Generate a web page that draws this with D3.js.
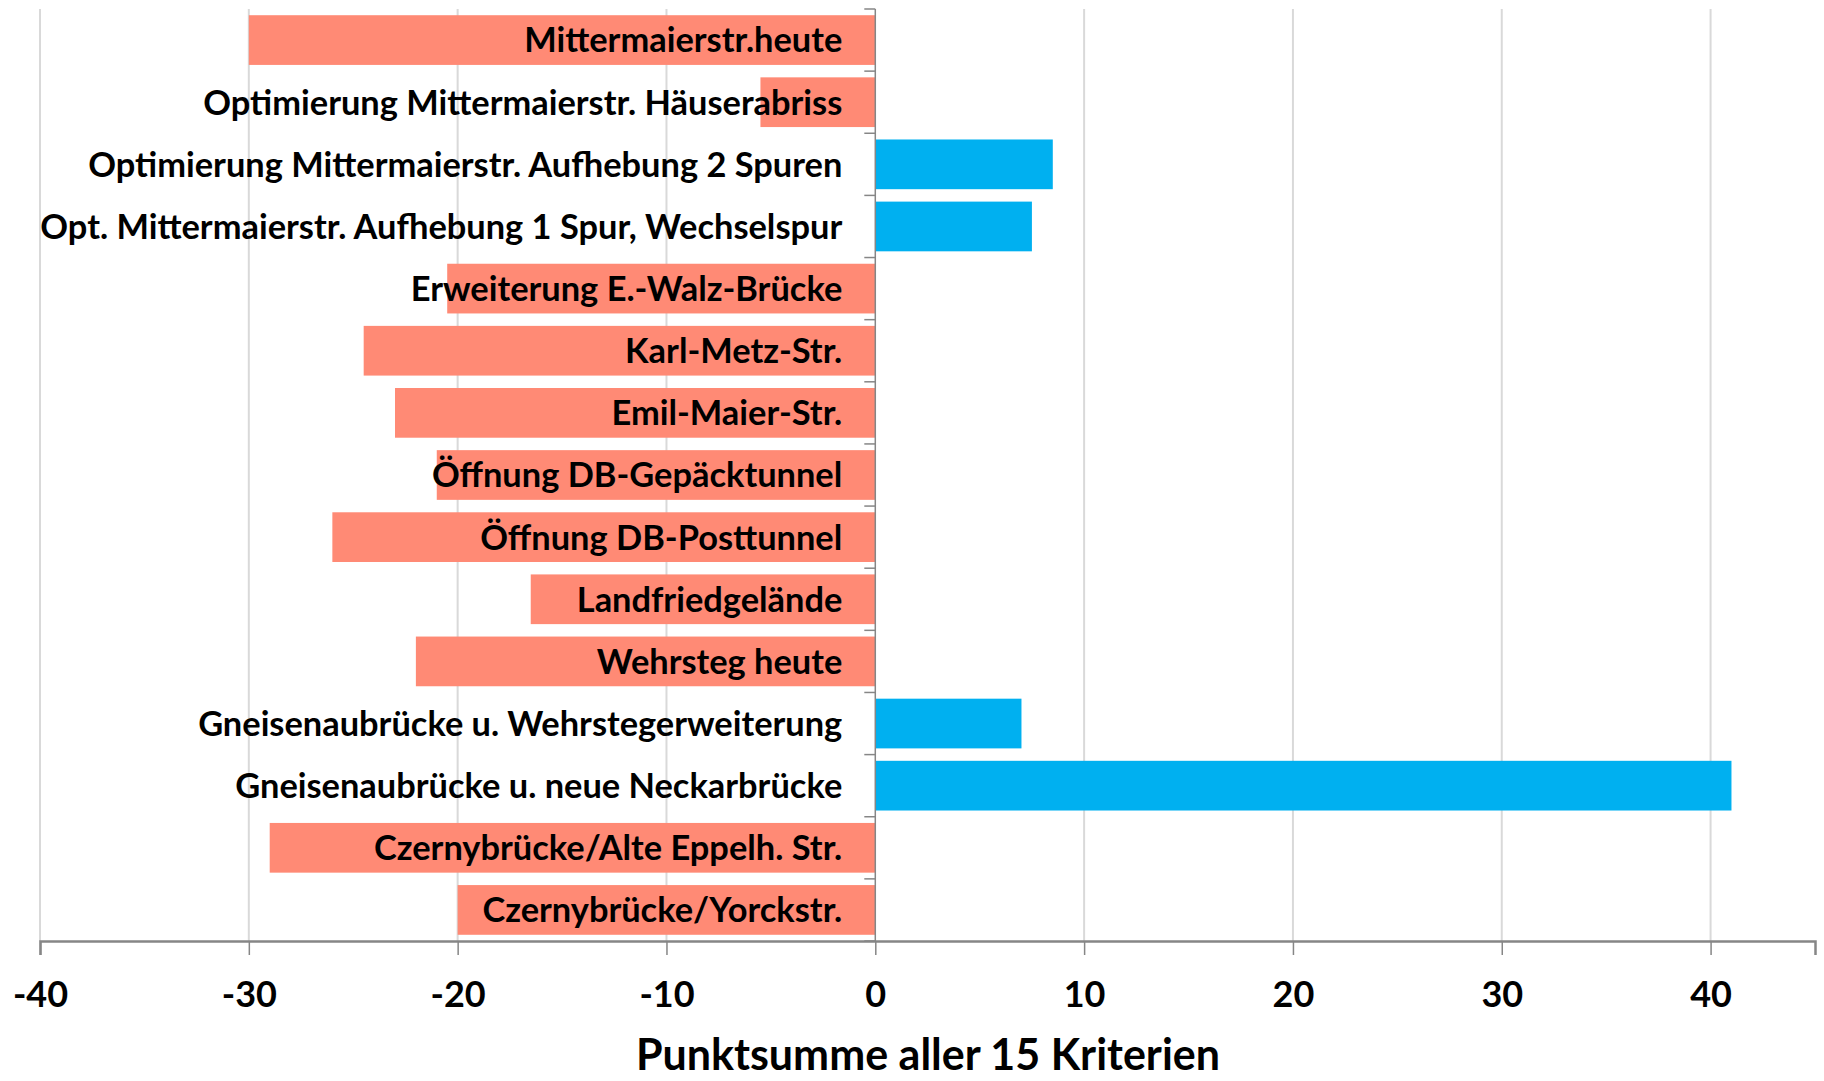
<!DOCTYPE html>
<html>
<head>
<meta charset="utf-8">
<script src="https://cdn.jsdelivr.net/npm/d3@7"></script>
<style>
  body { margin: 0; background: #fff; }
  svg text { font-family: Lato, "Open Sans", sans-serif; font-weight: bold; fill: #000; }
</style>
</head>
<body>
<div id="chart"></div>
<script>
// Varianten (von oben nach unten) und ihre Punktsumme
const categories = [
    "Mittermaierstr.heute",
    "Optimierung Mittermaierstr. Häuserabriss",
    "Optimierung Mittermaierstr. Aufhebung 2 Spuren",
    "Opt. Mittermaierstr. Aufhebung 1 Spur, Wechselspur",
    "Erweiterung E.-Walz-Brücke",
    "Karl-Metz-Str.",
    "Emil-Maier-Str.",
    "Öffnung DB-Gepäcktunnel",
    "Öffnung DB-Posttunnel",
    "Landfriedgelände",
    "Wehrsteg heute",
    "Gneisenaubrücke u. Wehrstegerweiterung",
    "Gneisenaubrücke u. neue Neckarbrücke",
    "Czernybrücke/Alte Eppelh. Str.",
    "Czernybrücke/Yorckstr."
];
const scores = [-30, -5.5, 8.5, 7.5, -20.5, -24.5, -23, -21, -26, -16.5, -22, 7, 41, -29, -20];
const xTicks = [-40, -30, -20, -10, 0, 10, 20, 30, 40];
const xTitle = "Punktsumme aller 15 Kriterien";

const width = 1824;
const height = 1081;
const plot = { left: 40, right: 1815, top: 9, bottom: 941 };

const svg = d3.select("#chart")
    .append("svg")
    .attr("width", width)
    .attr("height", height);

const x = d3.scaleLinear().domain([-40, 45]).range([plot.left, plot.right]);
const y = d3.scaleBand().domain(categories).range([plot.top, plot.bottom])
    .paddingInner(0.2).paddingOuter(0.1);

// Gitterlinien
svg.append("g")
    .selectAll("line")
    .data(xTicks.filter(d => d !== 0))
    .enter()
    .append("line")
    .attr("x1", d => x(d)).attr("x2", d => x(d))
    .attr("y1", plot.top).attr("y2", plot.bottom)
    .attr("stroke", "#d9d9d9")
    .attr("stroke-width", 2);

// Balken
svg.append("g")
    .selectAll("rect")
    .data(categories)
    .enter()
    .append("rect")
    .attr("x", (d, i) => x(Math.min(0, scores[i])))
    .attr("width", (d, i) => Math.abs(x(scores[i]) - x(0)))
    .attr("y", d => y(d))
    .attr("height", y.bandwidth())
    .attr("fill", (d, i) => scores[i] < 0 ? "#ff8a75" : "#00b0f0");

// x-Achse unten (Bindestrich statt Minuszeichen wie im Original)
const xAxis = d3.axisBottom(x).tickValues(xTicks).tickSize(14).tickPadding(26)
    .tickFormat(d => String(d));
const gx = svg.append("g")
    .attr("transform", `translate(0,${plot.bottom})`)
    .call(xAxis);
gx.select(".domain").attr("stroke", "#868686").attr("stroke-width", 2.5);
gx.selectAll(".tick line").attr("stroke", "#868686").attr("stroke-width", 1.5);
gx.selectAll(".tick text")
    .style("font-size", "36px")
    .style("font-family", "Lato, sans-serif")
    .attr("fill", "#000");

// Kategorieachse bei 0 mit Teilstrichen zwischen den Kategorien
const boundaries = d3.range(categories.length + 1).map(i => plot.top + i * y.step());
const gy = svg.append("g");
gy.append("line")
    .attr("x1", x(0)).attr("x2", x(0))
    .attr("y1", plot.top).attr("y2", plot.bottom)
    .attr("stroke", "#868686")
    .attr("stroke-width", 1.5);
gy.selectAll(".ytick")
    .data(boundaries)
    .enter()
    .append("line")
    .attr("class", "ytick")
    .attr("x1", x(0) - 11).attr("x2", x(0))
    .attr("y1", d => d).attr("y2", d => d)
    .attr("stroke", "#868686")
    .attr("stroke-width", 1.5);

// Beschriftungen
svg.append("g")
    .selectAll("text")
    .data(categories)
    .enter()
    .append("text")
    .attr("x", x(0) - 33)
    .attr("y", d => y(d) + y.bandwidth() / 2)
    .attr("dy", "0.36em")
    .attr("text-anchor", "end")
    .style("font-size", "34.4px")
    .text(d => d);

// Achsentitel
svg.append("text")
    .attr("x", 928)
    .attr("y", 1070)
    .attr("text-anchor", "middle")
    .style("font-size", "43px")
    .text(xTitle);
</script>
</body>
</html>
